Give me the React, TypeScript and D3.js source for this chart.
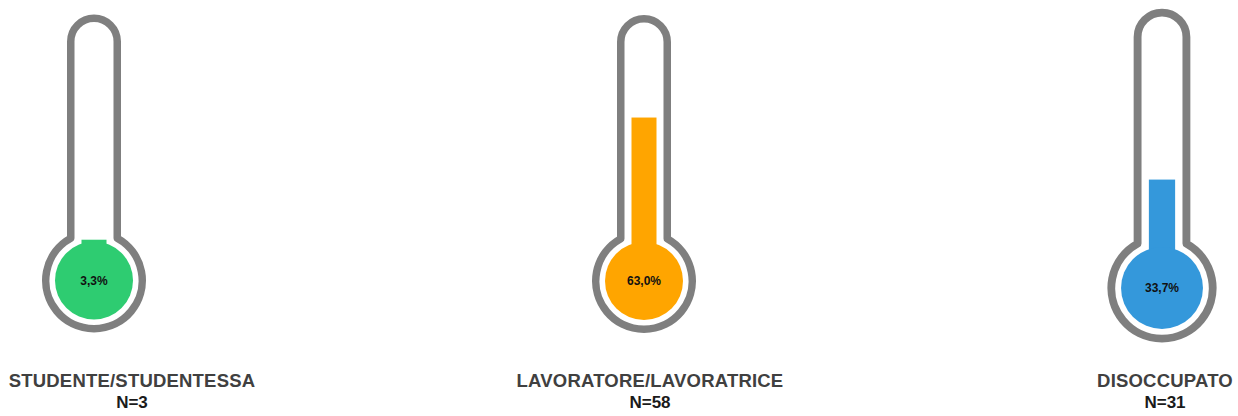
import React from 'react';
import * as d3 from 'd3';

// ---- Data ----
const categories = ['STUDENTE/STUDENTESSA', 'LAVORATORE/LAVORATRICE', 'DISOCCUPATO'];
const counts = [3, 58, 31];
const shares = [0.033, 0.63, 0.337];
const valueLabels = ['3,3%', '63,0%', '33,7%'];
const colors = ['#2ECC71', '#FFA500', '#3498DB'];

// ---- Layout (positions/sizes, not data) ----
const layout = [
  { cx: 94, cy: 280.5, s: 1, labelX: 132 },
  { cx: 644, cy: 281, s: 1, labelX: 650 },
  { cx: 1162, cy: 288, s: 1.05, labelX: 1165 },
];

const W = 1238;
const H = 416;
const TUBE_HALF = 27;
const STROKE = 7.5;
const BULB_R = 52;
const FILL_R = 39;
const BAR_HALF = 12.5;
const TOP = 266;
const V0 = 34;
const V1 = 239.5;
const GRAY = '#7F7F7F';
const FONT = "'Liberation Sans', Arial, sans-serif";

function Thermo({ i }: { i: number }) {
  const { cx, cy, s } = layout[i];
  const w = (TUBE_HALF - STROKE / 2) * s;
  const R = (BULB_R - STROKE / 2) * s;
  const arcCy = cy - (TOP - TUBE_HALF) * s;
  const jy = cy - Math.sqrt(R * R - w * w);
  const p = d3.path();
  p.moveTo(cx - w, jy);
  p.lineTo(cx - w, arcCy);
  p.arc(cx, arcCy, w, Math.PI, 0, false);
  p.lineTo(cx + w, jy);
  const a0 = Math.atan2(jy - cy, w);
  const a1 = Math.atan2(jy - cy, -w);
  p.arc(cx, cy, R, a0, a1, false);
  p.closePath();

  const y = d3.scaleLinear().domain([0, 1]).range([cy - V0 * s, cy - V1 * s]);
  const top = y(shares[i]);

  return (
    <g>
      <path d={p.toString()} fill="#fff" stroke={GRAY} strokeWidth={STROKE * s} strokeLinejoin="round" />
      <rect x={cx - BAR_HALF * s} y={top} width={2 * BAR_HALF * s} height={cy - top} fill={colors[i]} />
      <circle cx={cx} cy={cy} r={FILL_R * s} fill={colors[i]} />
      <text x={cx} y={cy} dy="0.35em" textAnchor="middle" fontFamily={FONT} fontWeight="bold" fontSize={12} fill="#111">
        {valueLabels[i]}
      </text>
      <text x={layout[i].labelX} y={387} textAnchor="middle" fontFamily={FONT} fontWeight="bold" fontSize={18.5} letterSpacing={0.2} fill="#404040">
        {categories[i]}
      </text>
      <text x={layout[i].labelX} y={408} textAnchor="middle" fontFamily={FONT} fontWeight="bold" fontSize={17} fill="#1a1a1a">
        {`N=${counts[i]}`}
      </text>
    </g>
  );
}

export default function App() {
  return (
    <svg width={W} height={H} style={{ position: 'absolute', left: 0, top: 0, background: '#fff' }}>
      {categories.map((_, i) => (
        <Thermo key={i} i={i} />
      ))}
    </svg>
  );
}
